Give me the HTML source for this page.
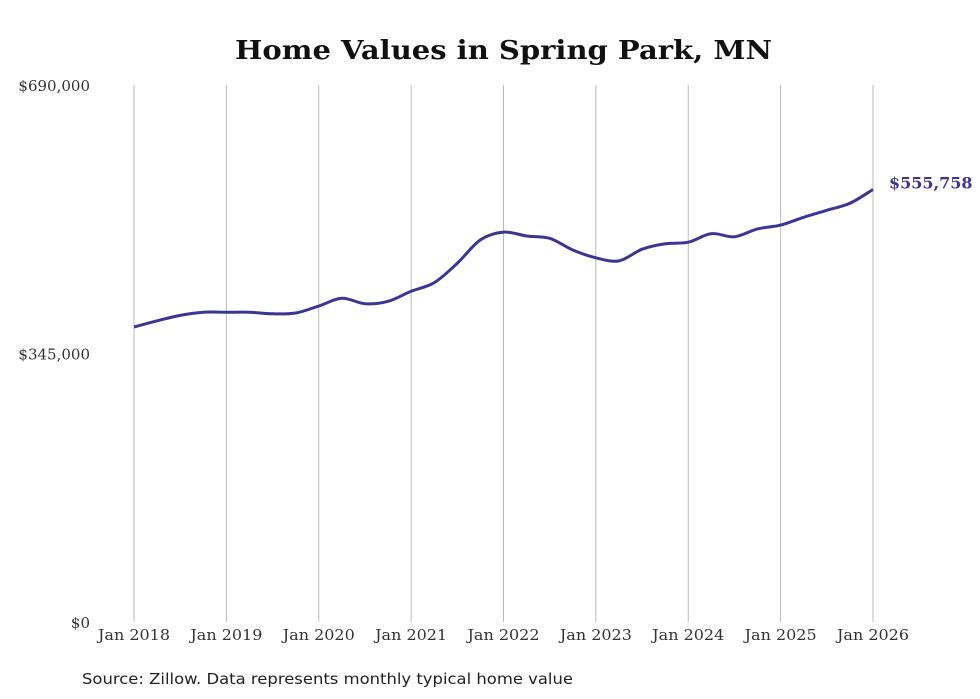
<!DOCTYPE html>
<html><head><meta charset="utf-8"><style>
body{margin:0;background:#fff;width:980px;height:699px;overflow:hidden}
svg{display:block}
text{font-family:"DejaVu Serif",serif}
</style></head><body>
<svg id="chart" width="980" height="699" viewBox="0 0 980 699">
<text x="235" y="59" textLength="537" lengthAdjust="spacingAndGlyphs" font-size="26" font-weight="bold" fill="#111">Home Values in Spring Park, MN</text>
<g id="grid"></g><g id="yaxis"></g><g id="xaxis"></g><g id="series"></g>
<text x="82" y="684" textLength="491" lengthAdjust="spacingAndGlyphs" font-size="15" fill="#222" style="font-family:'DejaVu Sans',sans-serif">Source: Zillow. Data represents monthly typical home value</text>
</svg>
<script>
const yTicks=[0,345000,690000];
const yTickLabels=["$0","$345,000","$690,000"];
const xTickYears=[2018,2019,2020,2021,2022,2023,2024,2025,2026];
const xTickLabels=["Jan 2018","Jan 2019","Jan 2020","Jan 2021","Jan 2022","Jan 2023","Jan 2024","Jan 2025","Jan 2026"];
const dates=[2018,2018.25,2018.5,2018.75,2019,2019.25,2019.5,2019.75,2020,2020.25,2020.5,2020.75,2021,2021.25,2021.5,2021.75,2022,2022.25,2022.5,2022.75,2023,2023.25,2023.5,2023.75,2024,2024.25,2024.5,2024.75,2025,2025.25,2025.5,2025.75,2026];
const values=[379000,387000,394000,398000,398000,398000,396000,397000,406000,416000,409000,412000,425000,436000,461000,491000,501000,496000,493000,478000,468000,464000,479000,486000,488000,499000,495000,505000,510000,520000,529000,538000,555758];
const lastLabel="$555,758";
const NS="http://www.w3.org/2000/svg";
const x=d=>134+(d-2018)*(873-134)/8;
const y=v=>622-v*(622-85)/690000;
function mk(tag,attrs,parent){const e=document.createElementNS(NS,tag);for(const k in attrs)e.setAttribute(k,attrs[k]);parent.appendChild(e);return e;}
const grid=document.getElementById('grid'),ya=document.getElementById('yaxis'),xa=document.getElementById('xaxis'),se=document.getElementById('series');
xTickYears.forEach((yr,i)=>{
 const l=mk('line',{x1:x(yr),x2:x(yr),y1:85,y2:622,stroke:'#bbb','stroke-width':1},grid);
 
 
 const t=mk('text',{x:x(yr),y:640,'text-anchor':'middle','font-size':15,fill:'#333',textLength:72,lengthAdjust:'spacingAndGlyphs'},xa);
 t.textContent=xTickLabels[i];
 
 
});
yTicks.forEach((v,i)=>{
 const t=mk('text',{x:90,y:y(v)+6,'text-anchor':'end','font-size':15,fill:'#333'},ya);
 t.textContent=yTickLabels[i];
 
 
});
const pts=dates.map((d,i)=>[x(d),y(values[i])]);
let p='M'+pts[0][0]+','+pts[0][1];
for(let i=0;i<pts.length-1;i++){
 const p0=pts[Math.max(0,i-1)],p1=pts[i],p2=pts[i+1],p3=pts[Math.min(pts.length-1,i+2)];
 const c1=[p1[0]+(p2[0]-p0[0])/6,p1[1]+(p2[1]-p0[1])/6],c2=[p2[0]-(p3[0]-p1[0])/6,p2[1]-(p3[1]-p1[1])/6];
 p+=` C${c1[0]},${c1[1]} ${c2[0]},${c2[1]} ${p2[0]},${p2[1]}`;
}
const path=mk('path',{d:p,fill:'none',stroke:'#3d3594','stroke-width':3,'stroke-linejoin':'round'},se);


const lt=mk('text',{x:x(dates[dates.length-1])+16,y:y(values[values.length-1])-1,'font-size':16,'font-weight':'bold',fill:'#3d3594'},se);
lt.textContent=lastLabel;


</script>
</body></html>
